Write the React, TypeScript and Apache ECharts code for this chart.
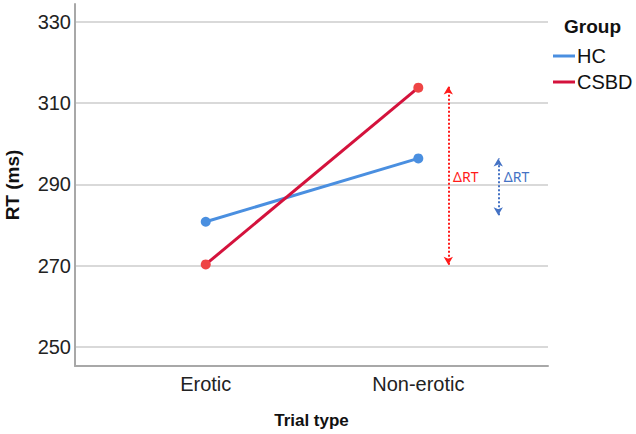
import React, { useEffect, useRef } from "react";
import * as echarts from "echarts";

const categories = ["Erotic", "Non-erotic"];
const groups = ["HC", "CSBD"];
const hcValues = [280.8, 296.4];
const csbdValues = [270.3, 313.8];
const yTicks = [250, 270, 290, 310, 330];
const xTicks = [0, 1];

// annotation arrows (data coordinates)
const redArrowX = 1.141;
const redArrowRange = [270.2, 314.1];
const blueArrowX = 1.376;
const blueArrowRange = [282.4, 296.4];
const redLabelPos = [1.223, 291.9];
const blueLabelPos = [1.462, 291.9];

const FONT = "'Liberation Sans', Arial, sans-serif";

export default function App() {
  const ref = useRef<HTMLDivElement>(null);
  useEffect(() => {
    document.body.style.margin = "0";
    const chart = echarts.init(ref.current!, null, { renderer: "svg" });
    const mkArrow = (x: number, r: number[], color: string) => ({
      silent: true,
      symbol: ["arrow", "arrow"],
      symbolSize: [7, 8],
      label: { show: false },
      lineStyle: { type: "dotted", width: 2, color },
      emphasis: { disabled: true },
      data: [[{ coord: [x, r[0]] }, { coord: [x, r[1]] }]],
    });
    const mkLabel = (p: number[], color: string) => ({
      silent: true,
      symbol: "circle",
      symbolSize: 1,
      itemStyle: { color: "rgba(0,0,0,0)" },
      label: {
        show: true,
        position: "inside",
        formatter: "ΔRT",
        color,
        fontSize: 14,
        fontFamily: "'Noto Sans', sans-serif",
      },
      data: [{ coord: p }],
    });
    chart.setOption({
      animation: false,
      title: {
        text: "Group",
        left: 559,
        top: 12,
        textStyle: { fontFamily: FONT, fontWeight: "bold", fontSize: 19, color: "#111" },
      },
      legend: {
        orient: "vertical",
        left: 548,
        top: 41,
        itemWidth: 22,
        itemHeight: 3,
        itemGap: 6,
        textStyle: { fontFamily: FONT, fontSize: 20, color: "#111", padding: [0, 0, 0, -3] },
        data: [
          { name: groups[0], icon: "rect", itemStyle: { color: "#4a8fe0" } },
          { name: groups[1], icon: "rect", itemStyle: { color: "#d4123c" } },
        ],
      },
      grid: { left: 75, right: 88, top: 4, bottom: 68, containLabel: false, outerBoundsMode: "none" },
      xAxis: {
        type: "value",
        min: -0.615,
        max: 1.61,
        name: "Trial type",
        nameLocation: "middle",
        nameGap: 46,
        nameTextStyle: { fontFamily: FONT, fontWeight: "bold", fontSize: 17, color: "#111" },
        axisLine: { show: true, onZero: false, lineStyle: { color: "#a8a8a8", width: 2 } },
        axisTick: { show: false, customValues: xTicks },
        splitLine: { show: false },
        axisLabel: {
          customValues: xTicks,
          formatter: (v: number) => categories[Math.round(v)] ?? "",
          fontFamily: FONT,
          fontSize: 20,
          color: "#222",
          margin: 8,
        },
      },
      yAxis: {
        type: "value",
        min: 245.3,
        max: 334.4,
        name: "RT (ms)",
        nameLocation: "middle",
        nameGap: 53,
        nameTextStyle: { fontFamily: FONT, fontWeight: "bold", fontSize: 19, color: "#111" },
        axisLine: { show: true, onZero: false, lineStyle: { color: "#a8a8a8", width: 2 } },
        axisTick: { show: false, customValues: yTicks },
        splitLine: { show: true, lineStyle: { color: "#cccccc", width: 1.5 } },
        axisLabel: {
          customValues: yTicks,
          fontFamily: FONT,
          fontSize: 20,
          color: "#222",
          margin: 4,
        },
      },
      series: [
        {
          name: groups[0],
          type: "line",
          data: hcValues.map((v, i) => [i, v]),
          symbol: "circle",
          symbolSize: 10,
          lineStyle: { width: 3, color: "#4a8fe0" },
          itemStyle: { color: "#4a8fe0" },
          z: 2,
          markLine: mkArrow(blueArrowX, blueArrowRange, "#4472c4"),
          markPoint: mkLabel(blueLabelPos, "#4472c4"),
        },
        {
          name: groups[1],
          type: "line",
          data: csbdValues.map((v, i) => [i, v]),
          symbol: "circle",
          symbolSize: 10,
          lineStyle: { width: 3, color: "#d4123c" },
          itemStyle: { color: "#ee4545" },
          z: 3,
          markLine: mkArrow(redArrowX, redArrowRange, "#ff1a1a"),
          markPoint: mkLabel(redLabelPos, "#ff1a1a"),
        },
      ],
    });
    return () => chart.dispose();
  }, []);
  return <div ref={ref} style={{ width: 636, height: 434 }} />;
}
